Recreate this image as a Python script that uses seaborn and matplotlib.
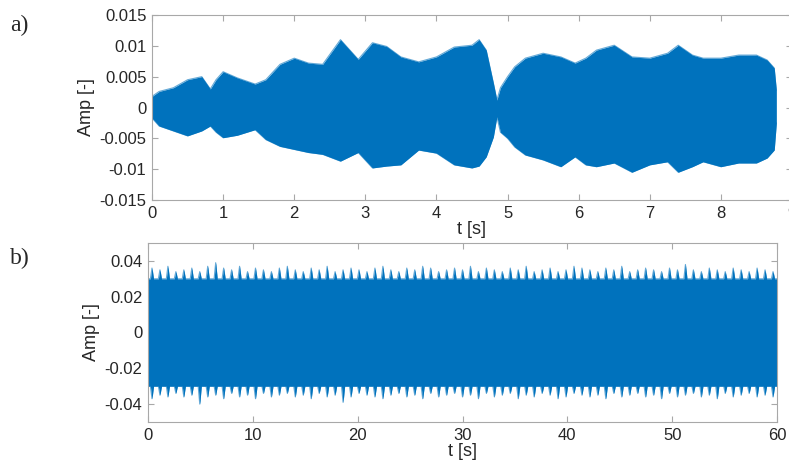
import numpy as np
import pandas as pd
import matplotlib.pyplot as plt
import seaborn as sns

# a) envelope of the signal
t_a = [0.00, 0.10, 0.30, 0.50, 0.70, 0.82, 0.90, 1.00, 1.20, 1.45, 1.60, 1.80,
       2.00, 2.20, 2.40, 2.65, 2.90, 3.10, 3.30, 3.50, 3.75, 4.00, 4.25, 4.50,
       4.60, 4.70, 4.80, 4.85, 4.90, 5.00, 5.10, 5.25, 5.50, 5.75, 5.95, 6.10,
       6.25, 6.50, 6.75, 7.00, 7.25, 7.40, 7.60, 7.75, 8.00, 8.25, 8.50, 8.65,
       8.75, 8.78]
up_a = [0.0018, 0.0026, 0.0032, 0.0045, 0.0050, 0.0030, 0.0045, 0.0058, 0.0048,
        0.0038, 0.0045, 0.0070, 0.0080, 0.0072, 0.0070, 0.0110, 0.0078, 0.0105,
        0.0099, 0.0082, 0.0074, 0.0082, 0.0098, 0.0101, 0.0110, 0.0093, 0.0040,
        0.0012, 0.0032, 0.0050, 0.0066, 0.0080, 0.0088, 0.0082, 0.0072, 0.0080,
        0.0093, 0.0101, 0.0082, 0.0080, 0.0088, 0.0101, 0.0085, 0.0080, 0.0080,
        0.0085, 0.0085, 0.0077, 0.0064, 0.0028]
lo_a = [-0.0017, -0.0030, -0.0038, -0.0046, -0.0038, -0.0030, -0.0040, -0.0049,
        -0.0045, -0.0036, -0.0052, -0.0063, -0.0068, -0.0073, -0.0076, -0.0087,
        -0.0073, -0.0098, -0.0095, -0.0093, -0.0069, -0.0074, -0.0093, -0.0098,
        -0.0095, -0.0080, -0.0048, -0.0015, -0.0040, -0.0050, -0.0064, -0.0077,
        -0.0085, -0.0096, -0.0080, -0.0093, -0.0096, -0.0090, -0.0105, -0.0093,
        -0.0088, -0.0105, -0.0096, -0.0088, -0.0096, -0.0090, -0.0090, -0.0082,
        -0.0069, -0.0025]

# b) spiky envelope: floor level and spike heights (one spike per beat)
floor_b = 0.030
spikes_up_b = [0.036, 0.035, 0.037, 0.034, 0.035, 0.036, 0.034, 0.037, 0.039, 0.036,
               0.035, 0.037, 0.034, 0.036, 0.035, 0.034, 0.036, 0.037, 0.035, 0.034,
               0.036, 0.035, 0.037, 0.034, 0.035, 0.036, 0.035, 0.034, 0.036, 0.037,
               0.035, 0.034, 0.036, 0.035, 0.037, 0.036, 0.034, 0.035, 0.036, 0.035,
               0.037, 0.034, 0.036, 0.035, 0.034, 0.036, 0.035, 0.037, 0.034, 0.035,
               0.036, 0.034, 0.035, 0.037, 0.036, 0.035, 0.034, 0.036, 0.035, 0.037,
               0.034, 0.035, 0.036, 0.035, 0.034, 0.036, 0.035, 0.038, 0.035, 0.034,
               0.036, 0.035, 0.034, 0.036, 0.035, 0.034, 0.036, 0.035, 0.034]
spikes_lo_b = [-0.037, -0.035, -0.036, -0.034, -0.036, -0.035, -0.040, -0.036, -0.035, -0.037,
               -0.034, -0.036, -0.035, -0.037, -0.034, -0.036, -0.035, -0.034, -0.036, -0.035,
               -0.037, -0.034, -0.036, -0.035, -0.039, -0.036, -0.034, -0.035, -0.036, -0.037,
               -0.035, -0.034, -0.036, -0.035, -0.037, -0.034, -0.036, -0.035, -0.034, -0.036,
               -0.035, -0.037, -0.034, -0.036, -0.035, -0.034, -0.037, -0.035, -0.036, -0.034,
               -0.035, -0.037, -0.036, -0.034, -0.035, -0.036, -0.035, -0.037, -0.034, -0.036,
               -0.035, -0.034, -0.036, -0.035, -0.037, -0.034, -0.036, -0.035, -0.034, -0.036,
               -0.035, -0.037, -0.034, -0.036, -0.035, -0.034, -0.036, -0.035, -0.036]
T_B = 60.0

xticks_a = [0, 1, 2, 3, 4, 5, 6, 7, 8, 9]
yticks_a = [-0.015, -0.01, -0.005, 0, 0.005, 0.01, 0.015]
ylabels_a = ['-0.015', '-0.01', '-0.005', '0', '0.005', '0.01', '0.015']
xticks_b = [0, 10, 20, 30, 40, 50, 60]
yticks_b = [-0.04, -0.02, 0, 0.02, 0.04]
ylabels_b = ['-0.04', '-0.02', '0', '0.02', '0.04']

blue = '#0072BD'

sns.set_theme(style='white')
plt.rcParams['font.family'] = ['Liberation Sans', 'DejaVu Sans']

fig = plt.figure(figsize=(7.89, 4.72), dpi=100)
ax_a = fig.add_axes([152 / 789, 1 - 200 / 472, 640 / 789, 185 / 472])
ax_b = fig.add_axes([148 / 789, 1 - 422 / 472, 629 / 789, 179 / 472])

# panel a
df_a = pd.DataFrame({'t': t_a, 'up': up_a, 'lo': lo_a})
ax_a.fill_between(df_a['t'], df_a['lo'], df_a['up'], color=blue, lw=0)
sns.lineplot(data=df_a, x='t', y='up', ax=ax_a, color=blue, lw=0.8, alpha=0.6)
sns.lineplot(data=df_a, x='t', y='lo', ax=ax_a, color=blue, lw=0.8, alpha=0.6)
ax_a.set_xlim(0, 9)
ax_a.set_ylim(-0.015, 0.015)
ax_a.set_xticks(xticks_a)
ax_a.set_yticks(yticks_a)
ax_a.set_yticklabels(ylabels_a)

# panel b: floor - spike - floor per beat
n = len(spikes_up_b)
beat = T_B / n
t_b, up_b, lo_b = [], [], []
for i in range(n):
    t0 = i * beat
    t_b += [t0, t0 + 0.3 * beat, t0 + 0.5 * beat, t0 + 0.7 * beat]
    up_b += [floor_b, floor_b, spikes_up_b[i], floor_b]
    lo_b += [-floor_b, -floor_b, spikes_lo_b[i], -floor_b]
t_b.append(T_B)
up_b.append(floor_b)
lo_b.append(-floor_b)
df_b = pd.DataFrame({'t': t_b, 'up': up_b, 'lo': lo_b})
ax_b.fill_between(df_b['t'], df_b['lo'], df_b['up'], color=blue, lw=0)
sns.lineplot(data=df_b, x='t', y='up', ax=ax_b, color=blue, lw=0.8, alpha=0.6)
sns.lineplot(data=df_b, x='t', y='lo', ax=ax_b, color=blue, lw=0.8, alpha=0.6)
ax_b.set_xlim(0, 60)
ax_b.set_ylim(-0.05, 0.05)
ax_b.set_xticks(xticks_b)
ax_b.set_yticks(yticks_b)
ax_b.set_yticklabels(ylabels_b)

for ax in (ax_a, ax_b):
    for s in ax.spines.values():
        s.set_color('#a8a8a8')
        s.set_linewidth(0.8)
    ax.tick_params(direction='in', length=4, width=0.8, color='#a8a8a8',
                   top=True, right=True, bottom=True, left=True,
                   labelsize=12, labelcolor='#262626', pad=4)
    ax.set_xlabel('t [s]', fontsize=13, color='#262626', labelpad=0)
    ax.set_ylabel('Amp [-]', fontsize=13, color='#262626', labelpad=3)

fig.text(10 / 789, 1 - 25 / 472, 'a)', family='Liberation Serif', fontsize=17,
         va='center', ha='left')
fig.text(10 / 789, 1 - 258 / 472, 'b)', family='Liberation Serif', fontsize=17,
         va='center', ha='left')

fig.savefig('out.png', dpi=100)
